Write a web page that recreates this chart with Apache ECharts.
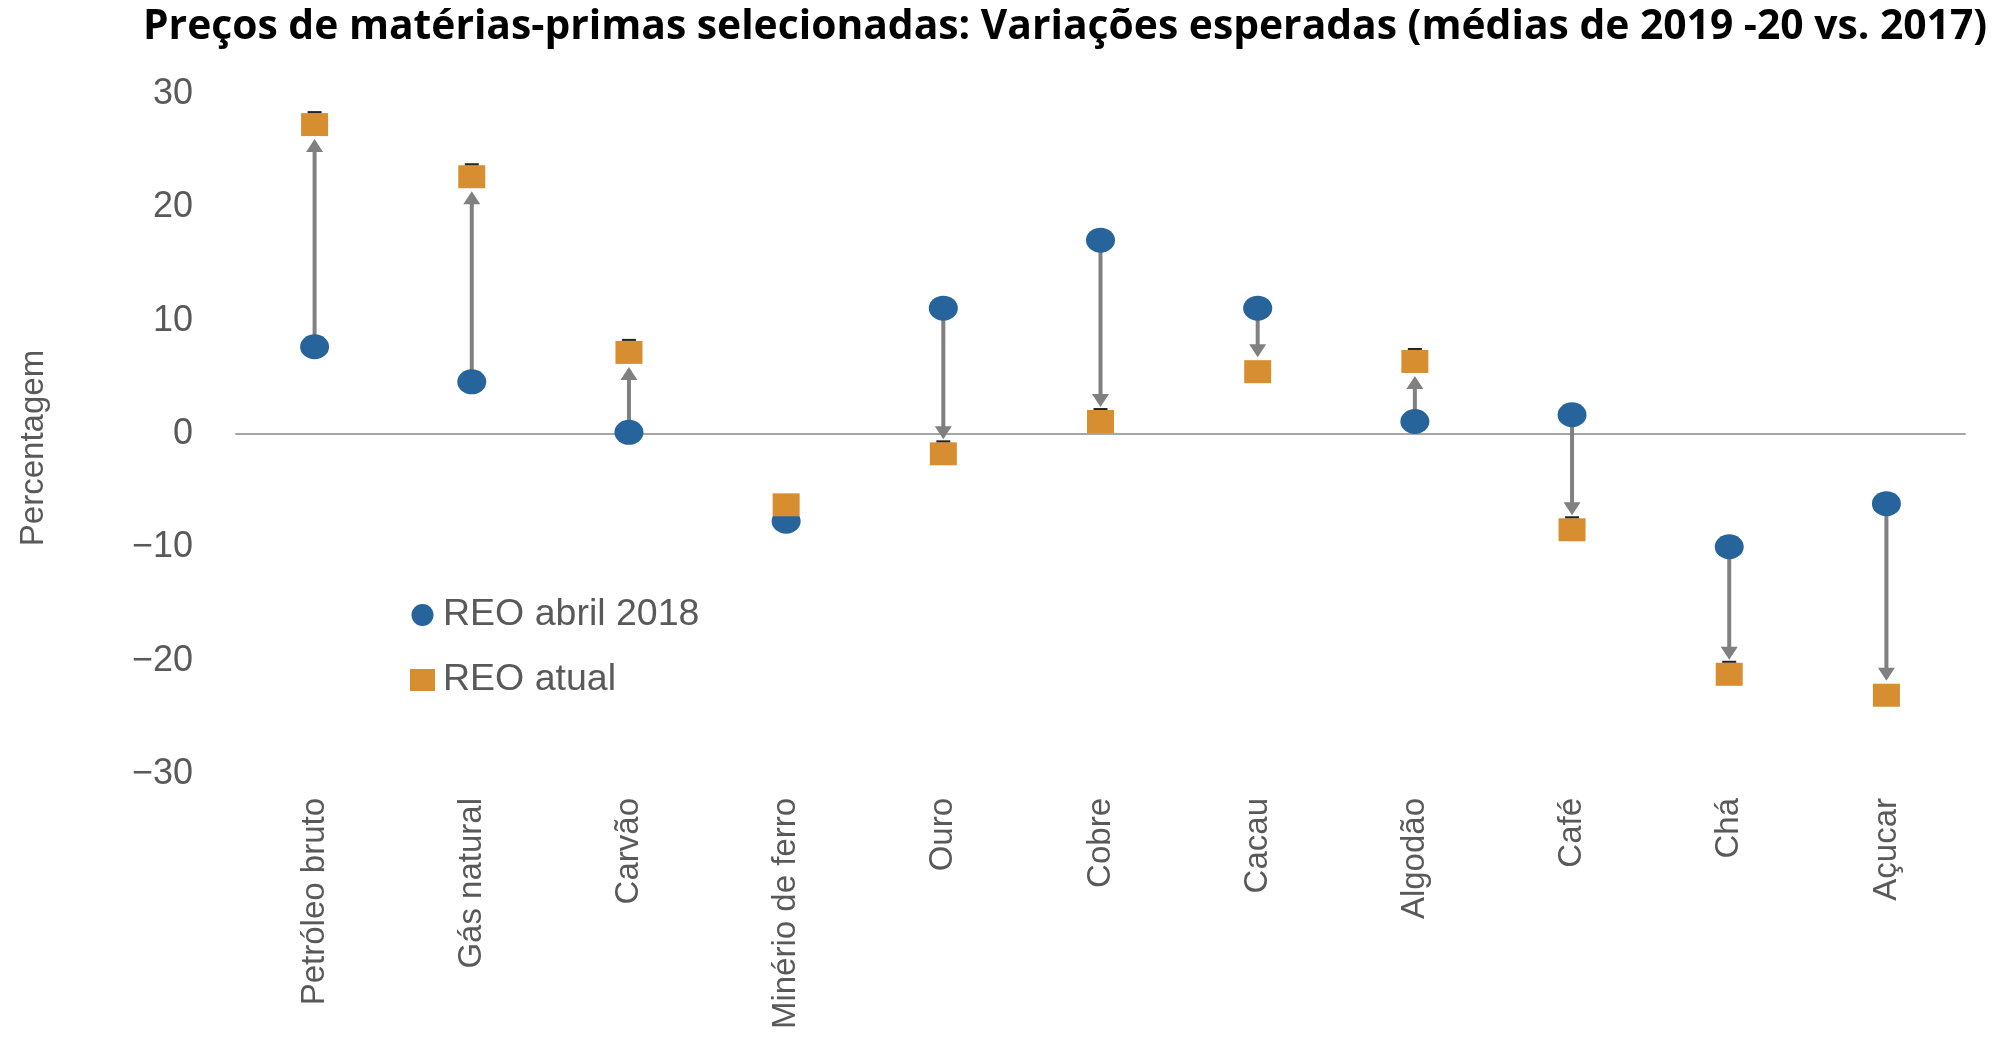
<!DOCTYPE html>
<html>
<head>
<meta charset="utf-8">
<script src="https://cdn.jsdelivr.net/npm/echarts@6/dist/echarts.min.js"></script>
<style>
  html, body { margin: 0; padding: 0; background: #fff; }
  #chart { width: 1997px; height: 1038px; }
</style>
</head>
<body>
<div id="chart"></div>
<script>
// dados (variação %, médias 2019-20 vs. 2017)
var categories = ['Petróleo bruto', 'Gás natural', 'Carvão', 'Minério de ferro', 'Ouro', 'Cobre', 'Cacau', 'Algodão', 'Café', 'Chá', 'Açucar']
var reoAbril2018 = [7.7, 4.6, 0.15, -7.7, 11.1, 17.1, 11.1, 1.1, 1.7, -9.95, -6.15]
var reoAtual = [27.3, 22.7, 7.2, -6.25, -1.75, 1.1, 5.5, 6.4, -8.45, -21.2, -23.05]
var yTicks = { min: -30, max: 30, interval: 10 }
// itens com o pequeno traço escuro no topo do quadrado
var withCap = ['Petróleo bruto', 'Gás natural', 'Carvão', 'Ouro', 'Cobre', 'Algodão', 'Café', 'Chá']

var BLUE = '#27649c'
var ORANGE = '#d68e31'
var GREY = '#808080'
var TEXT = '#595959'
var FONT = '"Liberation Sans", Arial, sans-serif'
var ellipse = 'path://M0,1 A1,1 0 1,1 2,1 A1,1 0 1,1 0,1 Z'

var CIRCLE_SIZE = [29, 25]
var SQUARE_SIZE = [27, 23]

var arrowData = categories.map(function (c, i) {
  return [i, reoAbril2018[i], reoAtual[i]]
})

var capData = categories.map(function (c, i) {
  return withCap.indexOf(c) >= 0 ? reoAtual[i] : '-'
})

function renderArrow(params, api) {
  var from = api.coord([api.value(0), api.value(1)])
  var to = api.coord([api.value(0), api.value(2)])
  var dir = to[1] > from[1] ? 1 : -1
  var tipY = to[1] - dir * (SQUARE_SIZE[1] / 2 + 3)
  var headH = 13, headW = 17
  // sem seta quando os marcadores quase se sobrepõem
  if ((tipY - from[1]) * dir < CIRCLE_SIZE[1] / 2 + headH + 4) return null
  var x = from[0]
  return {
    type: 'group',
    children: [
      {
        type: 'line',
        shape: { x1: x, y1: from[1], x2: x, y2: tipY - dir * (headH - 1) },
        style: { stroke: GREY, lineWidth: 4 }
      },
      {
        type: 'polygon',
        shape: { points: [[x - headW / 2, tipY - dir * headH], [x + headW / 2, tipY - dir * headH], [x, tipY]] },
        style: { fill: GREY }
      }
    ]
  }
}

var myChart = echarts.init(document.getElementById('chart'))
var option = {
  backgroundColor: '#fff',
  animation: false,
  title: {
    text: 'Preços de matérias-primas selecionadas: Variações esperadas (médias de 2019 -20 vs. 2017)',
    left: 138,
    top: 2,
    textStyle: { fontFamily: '"Open Sans", sans-serif', fontWeight: 'bold', fontSize: 40.8, color: '#000' }
  },
  legend: {
    orient: 'vertical',
    left: 405,
    top: 591,
    itemWidth: 25,
    itemHeight: 22,
    itemGap: 27,
    textStyle: { fontFamily: FONT, fontSize: 37.5, color: TEXT, padding: [0, 0, 0, 3] },
    data: [
      { name: 'REO abril 2018', icon: ellipse },
      { name: 'REO atual', icon: 'rect' }
    ]
  },
  grid: { left: 236, right: 32, top: 94, bottom: 264 },
  xAxis: [
    {
      type: 'category',
      data: categories,
      axisLine: { show: false, onZero: false },
      axisTick: { show: false },
      axisLabel: { rotate: 90, margin: 24, fontFamily: FONT, fontSize: 33, color: TEXT }
    },
    {
      type: 'category',
      data: categories,
      position: 'bottom',
      axisLine: { show: true, onZero: true, lineStyle: { color: '#a6a6a6', width: 2 } },
      axisTick: { show: false },
      axisLabel: { show: false }
    }
  ],
  yAxis: {
    type: 'value',
    min: yTicks.min,
    max: yTicks.max,
    interval: yTicks.interval,
    axisLine: { show: false },
    axisTick: { show: false },
    splitLine: { show: false },
    axisLabel: {
      margin: 43,
      fontFamily: FONT,
      fontSize: 36,
      color: TEXT,
      formatter: function (v) { return String(v).replace('-', '\u2212') }
    }
  },
  graphic: [
    {
      type: 'text',
      x: 34,
      y: 448,
      rotation: Math.PI / 2,
      style: { text: 'Percentagem', font: '33px ' + FONT, fill: TEXT, align: 'center', verticalAlign: 'middle' }
    }
  ],
  series: [
    {
      type: 'custom',
      name: 'setas',
      z: 2,
      silent: true,
      renderItem: renderArrow,
      encode: { x: 0, y: [1, 2] },
      data: arrowData
    },
    {
      type: 'scatter',
      name: 'REO abril 2018',
      z: 3,
      symbol: ellipse,
      symbolSize: CIRCLE_SIZE,
      itemStyle: { color: BLUE, opacity: 1 },
      data: reoAbril2018
    },
    {
      type: 'scatter',
      name: 'REO atual',
      z: 4,
      symbol: 'rect',
      symbolSize: SQUARE_SIZE,
      itemStyle: { color: ORANGE, opacity: 1 },
      data: reoAtual
    },
    {
      type: 'scatter',
      name: 'traço',
      z: 5,
      silent: true,
      symbol: 'rect',
      symbolSize: [14, 2],
      symbolOffset: [0, -12.5],
      itemStyle: { color: '#222', opacity: 1 },
      data: capData
    }
  ]
}
myChart.setOption(option)
</script>
</body>
</html>
